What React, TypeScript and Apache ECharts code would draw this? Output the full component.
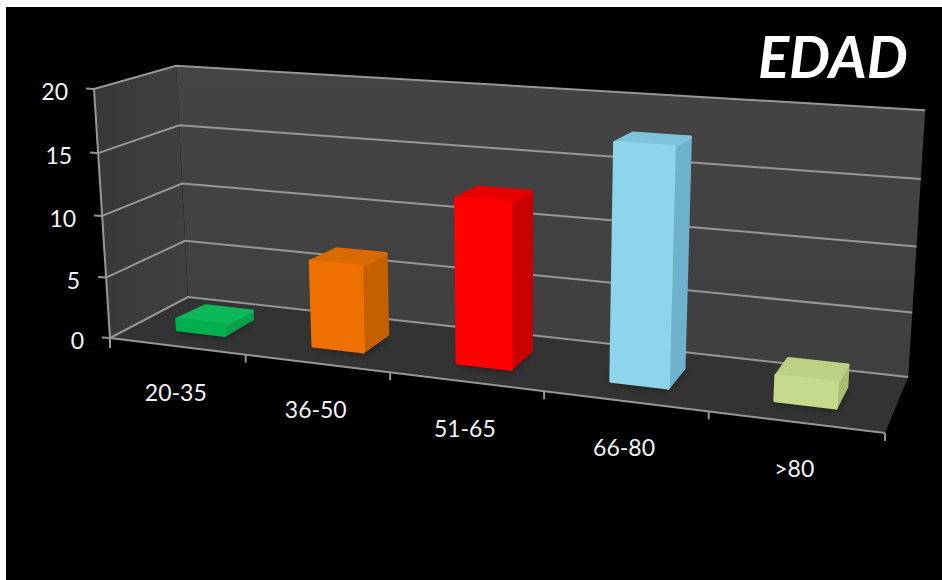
import React, { useEffect, useRef } from "react";
import * as echarts from "echarts";

const categories = ["20-35", "36-50", "51-65", "66-80", ">80"];
const values = [1, 7, 13, 18, 2];
const valueTicks = [0, 5, 10, 15, 20];
const titleText = "EDAD";

const frontColors = ["#00B050", "#ED7000", "#FF0000", "#8ED4EA", "#C6DA8E"];
const sideColors = ["#07A04A", "#C46000", "#C80000", "#6FB2CC", "#A8BC72"];
const topColors = ["#0CB858", "#D86A04", "#E60000", "#7FC3DA", "#BDD184"];

const WIDTH = 942;
const HEIGHT = 580;
const FONT = "Lato, 'Noto Sans', sans-serif";

// Plot rectangle of the hidden cartesian axes; its unit square feeds the projection.
const GRID = { left: 100, top: 100, width: 700, height: 300 };

// Projective map of the chart box: origin, the three axis ends, and a weight per axis.
const O = [110, 338];
const AX = [885, 433];
const AY = [94, 89];
const AZ = [188, 297];
const WX = 0.849;
const WY = 0.9617;
const WZ = 1.081;

function project(u: number, v: number, w: number): number[] {
  const d = 1 + u * (WX - 1) + v * (WY - 1) + w * (WZ - 1);
  return [0, 1].map(
    (i) =>
      (O[i] +
        u * (WX * AX[i] - O[i]) +
        v * (WY * AY[i] - O[i]) +
        w * (WZ * AZ[i] - O[i])) /
      d
  );
}

const toU = (px: number) => (px - GRID.left) / GRID.width;
const toV = (py: number) => (GRID.top + GRID.height - py) / GRID.height;

const BAR_SHARE = 0.355;
const DEPTH_NEAR = 0.31;
const DEPTH_FAR = 0.69;
// Vertical insets that keep the rounded outline from overshooting the bar's value.
const TOP_INSET = 0.007;
const BEVEL_DROP = 0.016;
const LINE = "#979797";
const LABEL = "#f4f4f4";

function poly(points: number[][], style: any) {
  return { type: "polygon", shape: { points }, style };
}
function seg(points: number[][], lineWidth = 2, stroke = LINE) {
  return {
    type: "polyline",
    shape: { points },
    style: { stroke, lineWidth, fill: "none" },
  };
}

function renderWalls() {
  const back = [project(0, 0, 1), project(1, 0, 1), project(1, 1, 1), project(0, 1, 1)];
  const left = [project(0, 0, 0), project(0, 0, 1), project(0, 1, 1), project(0, 1, 0)];
  const floor = [project(0, 0, 0), project(1, 0, 0), project(1, 0, 1), project(0, 0, 1)];
  return {
    type: "group",
    children: [
      poly(left, {
        fill: new echarts.graphic.LinearGradient(0, 0, 1, 0, [
          { offset: 0, color: "#383838" },
          { offset: 1, color: "#404040" },
        ]),
      }),
      poly(back, {
        fill: new echarts.graphic.LinearGradient(0, 0, 0, 1, [
          { offset: 0, color: "#444444" },
          { offset: 1, color: "#3f3f3f" },
        ]),
      }),
      poly(floor, { fill: "#333333" }),
    ],
  };
}

function renderGridLine(params: any, api: any) {
  const v = toV(api.coord([0, api.value(0)])[1]);
  const isZero = api.value(0) === 0;
  const yEdge = project(0, v, 0);
  const children: any[] = [
    seg([project(0, v, 0), project(0, v, 1), project(1, v, 1)]),
    seg([[yEdge[0] - 8, yEdge[1] - 0.5], yEdge], 2),
    {
      type: "text",
      style: {
        text: String(api.value(0)),
        x: yEdge[0] - 26,
        y: yEdge[1] + 2,
        align: "right",
        verticalAlign: "middle",
        fill: LABEL,
        font: `23px ${FONT}`,
      },
    },
  ];
  if (isZero) {
    children.push(seg([project(0, 0, 0), project(0, 1, 0)]));
    children.push(seg([project(0, 0, 0), project(1, 0, 0)]));
    children.push(seg([project(0, 0, 0), [project(0, 0, 0)[0], project(0, 0, 0)[1] + 10]]));
  }
  return { type: "group", children };
}

function renderXTick(params: any, api: any) {
  const i = api.value(0);
  const band = api.size([1, 0])[0];
  const cx = toU(api.coord([i, 0])[0]);
  const end = project(cx + toU(GRID.left + band / 2), 0, 0);
  const mid = project(cx, 0, 0);
  return {
    type: "group",
    children: [
      seg([end, [end[0], end[1] + 8]]),
      {
        type: "text",
        style: {
          text: categories[i],
          x: mid[0] - 1,
          y: mid[1] + 46,
          align: "center",
          verticalAlign: "middle",
          fill: LABEL,
          font: `23px ${FONT}`,
        },
      },
    ],
  };
}

function barCorners(api: any) {
  const i = api.value(0);
  const band = toU(GRID.left + api.size([1, 0])[0]);
  const c = toU(api.coord([i, 0])[0]);
  const u0 = c - (band * BAR_SHARE) / 2;
  const u1 = c + (band * BAR_SHARE) / 2;
  const top = toV(api.coord([i, api.value(1)])[1]);
  return { i, u0, u1, top };
}

function renderShadow(params: any, api: any) {
  const { u0, u1 } = barCorners(api);
  return poly(
    [
      project(u0, 0, DEPTH_NEAR),
      project(u1, 0, DEPTH_NEAR),
      project(u1, 0, DEPTH_FAR),
      project(u0, 0, DEPTH_FAR),
    ],
    { fill: "#1c1c1c", shadowBlur: 10, shadowColor: "rgba(0,0,0,0.85)" }
  );
}

function renderBar(params: any, api: any) {
  const { i, u0, u1, top } = barCorners(api);
  const n = DEPTH_NEAR;
  const f = DEPTH_FAR;
  const tn = top - TOP_INSET;
  const tf = top - BEVEL_DROP;
  // A thick round-joined outline softens the corners into the bevelled look.
  const face = (color: string) => ({
    fill: color,
    stroke: color,
    lineWidth: 3.5,
    lineJoin: "round",
  });
  return {
    type: "group",
    children: [
      poly(
        [project(u1, 0, n), project(u1, 0, f), project(u1, tf, f), project(u1, tn, n)],
        face(sideColors[i])
      ),
      poly(
        [project(u0, tn, n), project(u1, tn, n), project(u1, tf, f), project(u0, tf, f)],
        face(topColors[i])
      ),
      poly(
        [project(u0, 0, n), project(u1, 0, n), project(u1, tn, n), project(u0, tn, n)],
        face(frontColors[i])
      ),
    ],
  };
}

const barData = values.map((v, i) => [i, v]);

export default function App() {
  const ref = useRef<HTMLDivElement>(null);
  useEffect(() => {
    document.body.style.margin = "0";
    const chart = echarts.init(ref.current!, null, { renderer: "svg" });
    chart.setOption({
      animation: false,
      backgroundColor: "#ffffff",
      title: {
        text: titleText,
        left: 753,
        top: 21,
        textStyle: {
          color: "#ffffff",
          fontSize: 58,
          fontWeight: "bold",
          fontStyle: "italic",
          fontFamily: FONT,
        },
      },
      graphic: [
        {
          type: "rect",
          z: -10,
          shape: { x: 6, y: 7, width: WIDTH - 6, height: HEIGHT - 7 },
          style: { fill: "#000000" },
        },
      ],
      grid: GRID,
      xAxis: { type: "category", data: categories, show: false },
      yAxis: { type: "value", min: 0, max: 20, interval: 5, show: false },
      series: [
        { type: "custom", z: 1, silent: true, renderItem: renderWalls, data: [[0]] },
        {
          type: "custom",
          z: 2,
          silent: true,
          renderItem: renderGridLine,
          data: valueTicks.map((t) => [t]),
          encode: { y: 0 },
        },
        {
          type: "custom",
          z: 3,
          silent: true,
          renderItem: renderXTick,
          data: categories.map((_, i) => [i]),
          encode: { x: 0 },
        },
        {
          type: "custom",
          z: 4,
          silent: true,
          renderItem: renderShadow,
          data: barData,
          encode: { x: 0, y: 1 },
        },
        {
          type: "custom",
          z: 5,
          silent: true,
          renderItem: renderBar,
          data: barData,
          encode: { x: 0, y: 1 },
        },
      ],
    });
    return () => chart.dispose();
  }, []);
  return <div ref={ref} style={{ width: WIDTH, height: HEIGHT }} />;
}
